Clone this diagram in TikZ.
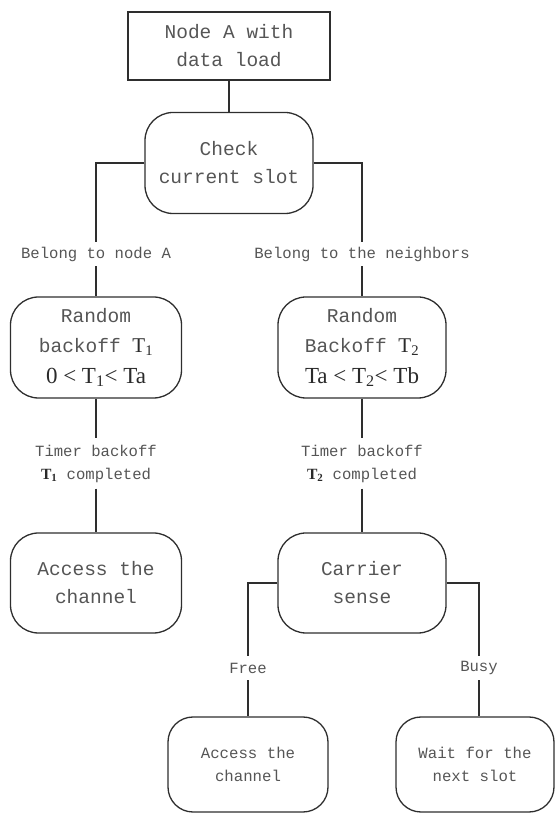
\documentclass[tikz,border=0pt]{standalone}
\usepackage{fontspec}
\setmainfont{Liberation Serif}
\newfontfamily\monofam{Liberation Mono}

\definecolor{inkline}{HTML}{2E2E2E}
\definecolor{inktext}{HTML}{555555}
\definecolor{inkmath}{HTML}{2A2A2A}

% Times-style T with subscript, used inside the monospaced box text
\newcommand{\Tsub}[1]{{\rmfamily\color{inkmath}\fontsize{21}{30.5}\selectfont T\textsubscript{#1}}}

\tikzset{
  conn/.style={line width=1.2pt, draw=inkline},
  plainbox/.style={draw=inkline, line width=1.3pt, rectangle, inner sep=0pt,
    align=center, text=inktext, font=\monofam\fontsize{19.5}{28}\selectfont},
  roundbox/.style={plainbox, rounded corners=28pt},
  smallbox/.style={plainbox, rounded corners=25pt,
    font=\monofam\fontsize{15.7}{23}\selectfont},
  edgelabel/.style={inner sep=0pt, align=center, text=inktext,
    font=\monofam\fontsize{15.6}{23}\selectfont, minimum height=24pt},
  rangeline/.style={},
}
\newcommand{\rangefont}{\rmfamily\color{inkmath}\fontsize{23}{30.5}\selectfont}

\begin{document}
\begin{tikzpicture}[x=1pt, y=1pt]
\useasboundingbox (0,0) rectangle (556,815);

% top-level box and slot check
\node[plainbox, minimum width=202pt, minimum height=68pt] (nodeA) at (229,769)
  {Node A with\\data load};
\node[roundbox, minimum width=168pt, minimum height=101pt] (check) at (229,652)
  {Check\\current slot};

% branch labels
\node[edgelabel] (ownA) at (96,561) {Belong to node A};
\node[edgelabel] (neigh) at (362,561) {Belong to the neighbors};

% backoff boxes
\node[roundbox, minimum width=171pt, minimum height=101pt,
      font=\monofam\fontsize{19.5}{30.5}\selectfont] (rand1) at (96,467.5)
  {Random\\backoff \Tsub{1}\\{\rangefont 0 < T\textsubscript{1}< Ta}};
\node[roundbox, minimum width=168pt, minimum height=101pt,
      font=\monofam\fontsize{19.5}{30.5}\selectfont] (rand2) at (362,467.5)
  {Random\\Backoff \Tsub{2}\\{\rangefont Ta < T\textsubscript{2}< Tb}};

% timer labels
\node[edgelabel, minimum height=50pt] (timer1) at (96,351.5)
  {Timer backoff\\{\rmfamily\bfseries\color{inkmath}T\textsubscript{1}} completed};
\node[edgelabel, minimum height=50pt] (timer2) at (362,351.5)
  {Timer backoff\\{\rmfamily\bfseries\color{inkmath}T\textsubscript{2}} completed};

% channel access and carrier sensing
\node[roundbox, minimum width=171pt, minimum height=100pt] (access1) at (96,232)
  {Access the\\channel};
\node[roundbox, minimum width=168pt, minimum height=100pt] (carrier) at (362,232)
  {Carrier\\sense};

% carrier sense outcomes
\node[edgelabel] (free) at (248,147) {Free};
\node[edgelabel] (busy) at (479,147) {Busy};

\node[smallbox, minimum width=160pt, minimum height=95pt] (access2) at (248,50.5)
  {Access the\\channel};
\node[smallbox, minimum width=158pt, minimum height=95pt] (wait) at (475,50.5)
  {Wait for the\\next slot};

% connectors
\draw[conn] (nodeA.south) -- (check.north);
\draw[conn] (check.west) -- (check.west -| ownA) -- (ownA.north);
\draw[conn] (check.east) -- (check.east -| neigh) -- (neigh.north);
\draw[conn] (ownA.south) -- (ownA.south |- rand1.north);
\draw[conn] (neigh.south) -- (neigh.south |- rand2.north);
\draw[conn] (rand1.south) -- (rand1.south |- timer1.north);
\draw[conn] (rand2.south) -- (rand2.south |- timer2.north);
\draw[conn] (timer1.south) -- (timer1.south |- access1.north);
\draw[conn] (timer2.south) -- (timer2.south |- carrier.north);
\draw[conn] (carrier.west) -- (carrier.west -| free) -- (free.north);
\draw[conn] (carrier.east) -- (carrier.east -| busy) -- (busy.north);
\draw[conn] (free.south) -- (free.south |- access2.north);
\draw[conn] (busy.south) -- (busy.south |- wait.north);
\end{tikzpicture}
\end{document}
